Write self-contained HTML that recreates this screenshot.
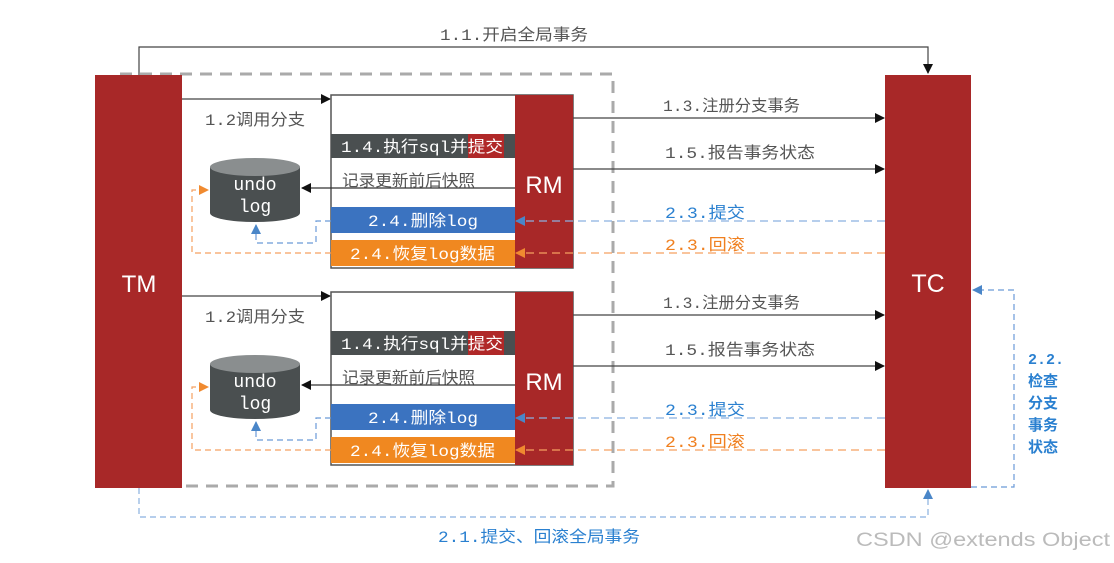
<!DOCTYPE html>
<html><head><meta charset="utf-8"><style>
body{margin:0;background:#fff;}
</style></head><body>
<svg width="1114" height="558" viewBox="0 0 1114 558" xmlns="http://www.w3.org/2000/svg" style="font-family:'Liberation Mono','Noto Sans CJK SC',monospace">
<defs>
<marker id="ab" markerWidth="10" markerHeight="10" refX="9" refY="5" orient="auto" markerUnits="userSpaceOnUse"><path d="M0,0 L10,5 L0,10 z" fill="#111"/></marker>
<marker id="abl" markerWidth="10" markerHeight="10" refX="9" refY="5" orient="auto" markerUnits="userSpaceOnUse"><path d="M0,0 L10,5 L0,10 z" fill="#4a86c8"/></marker>
<marker id="ao" markerWidth="10" markerHeight="10" refX="9" refY="5" orient="auto" markerUnits="userSpaceOnUse"><path d="M0,0 L10,5 L0,10 z" fill="#f08a30"/></marker>
</defs>
<rect width="1114" height="558" fill="#fff"/>
<path d="M120,74 H613 V486 H182" fill="none" stroke="#aaa" stroke-width="3" stroke-dasharray="12,8"/>
<path d="M139,75 V47 H928 V73" fill="none" stroke="#444" stroke-width="1.2" marker-end="url(#ab)"/>
<text x="440" y="40" font-size="16" fill="#555" textLength="148" lengthAdjust="spacingAndGlyphs">1.1.开启全局事务</text>
<rect x="95" y="75" width="87" height="413" fill="#a82828"/>
<text x="139" y="292" font-size="24" fill="#fff" text-anchor="middle" style="font-family:'Liberation Sans',sans-serif">TM</text>
<rect x="885" y="75" width="86" height="413" fill="#a82828"/>
<text x="928" y="292" font-size="25" fill="#fff" text-anchor="middle" style="font-family:'Liberation Sans',sans-serif">TC</text>

<g id="grp">
<path d="M182,99 H330" stroke="#444" stroke-width="1.2" marker-end="url(#ab)"/>
<text x="205" y="125" font-size="16" fill="#555" textLength="100" lengthAdjust="spacingAndGlyphs">1.2调用分支</text>
<rect x="331" y="95" width="242" height="173" fill="#fff" stroke="#555" stroke-width="1.5"/>
<rect x="515" y="95" width="58" height="173" fill="#a82828"/>
<text x="544" y="193" font-size="24" fill="#fff" text-anchor="middle" style="font-family:'Liberation Sans',sans-serif">RM</text>
<rect x="331" y="134" width="184" height="24" fill="#4a4f50"/>
<rect x="468" y="134" width="36" height="24" fill="#b02828"/>
<text x="341" y="152" font-size="16" fill="#fff" textLength="162" lengthAdjust="spacingAndGlyphs">1.4.执行sql并提交</text>
<text x="342" y="186" font-size="16" fill="#555" textLength="133" lengthAdjust="spacingAndGlyphs">记录更新前后快照</text>
<path d="M515,188 H302" stroke="#333" stroke-width="1.2" marker-end="url(#ab)"/>
<rect x="331" y="207" width="184" height="26" fill="#3b73c0"/>
<text x="368" y="226" font-size="16" fill="#fff" textLength="110" lengthAdjust="spacingAndGlyphs">2.4.删除log</text>
<rect x="331" y="240" width="184" height="26" fill="#f08820"/>
<text x="350" y="259" font-size="16" fill="#fff" textLength="145" lengthAdjust="spacingAndGlyphs">2.4.恢复log数据</text>
<path d="M210,167 V213 A45,9 0 0 0 300,213 V167" fill="#4a4f50"/>
<ellipse cx="255" cy="167" rx="45" ry="9" fill="#8a8e8f"/>
<text x="255" y="190" font-size="18" fill="#fff" text-anchor="middle">undo</text>
<text x="255" y="212" font-size="18" fill="#fff" text-anchor="middle">log</text>
<path d="M331,221 H316 V243 H256 V225" fill="none" stroke="#6a9ad8" stroke-width="1.2" stroke-dasharray="6,4" marker-end="url(#abl)"/>
<path d="M331,253 H192 V190 H208" fill="none" stroke="#f5a060" stroke-width="1.2" stroke-dasharray="6,4" marker-end="url(#ao)"/>
<path d="M573,118 H884" stroke="#444" stroke-width="1.2" marker-end="url(#ab)"/>
<text x="663" y="111" font-size="16" fill="#555" textLength="137" lengthAdjust="spacingAndGlyphs">1.3.注册分支事务</text>
<path d="M573,169 H884" stroke="#444" stroke-width="1.2" marker-end="url(#ab)"/>
<text x="665" y="158" font-size="16" fill="#555" textLength="150" lengthAdjust="spacingAndGlyphs">1.5.报告事务状态</text>
<path d="M885,221 H516" stroke="#8ab0e0" stroke-width="1.2" stroke-dasharray="8,5" marker-end="url(#abl)"/>
<text x="665" y="218" font-size="16" fill="#2a80d0" textLength="80" lengthAdjust="spacingAndGlyphs">2.3.提交</text>
<path d="M885,253 H516" stroke="#f5a060" stroke-width="1.2" stroke-dasharray="8,5" marker-end="url(#ao)"/>
<text x="665" y="250" font-size="16" fill="#f08020" textLength="80" lengthAdjust="spacingAndGlyphs">2.3.回滚</text>
</g>
<use href="#grp" transform="translate(0,197)"/>

<path d="M971,487 H1014 V290 H973" fill="none" stroke="#6a9ad8" stroke-width="1.2" stroke-dasharray="6,4" marker-end="url(#abl)"/>
<text font-size="15" fill="#2a80d0" font-weight="bold"><tspan x="1028" y="364">2.2.</tspan><tspan x="1028" y="386">检查</tspan><tspan x="1028" y="408">分支</tspan><tspan x="1028" y="430">事务</tspan><tspan x="1028" y="452">状态</tspan></text>
<path d="M139,488 V517 H928 V490" fill="none" stroke="#8ab0e0" stroke-width="1.2" stroke-dasharray="6,4" marker-end="url(#abl)"/>
<text x="438" y="542" font-size="16" fill="#2a80d0" textLength="202" lengthAdjust="spacingAndGlyphs">2.1.提交、回滚全局事务</text>
<text x="856" y="546" font-size="19" fill="#bbb" textLength="254" lengthAdjust="spacingAndGlyphs" style="font-family:'Liberation Sans',sans-serif">CSDN @extends Object</text>
</svg>
</body></html>
